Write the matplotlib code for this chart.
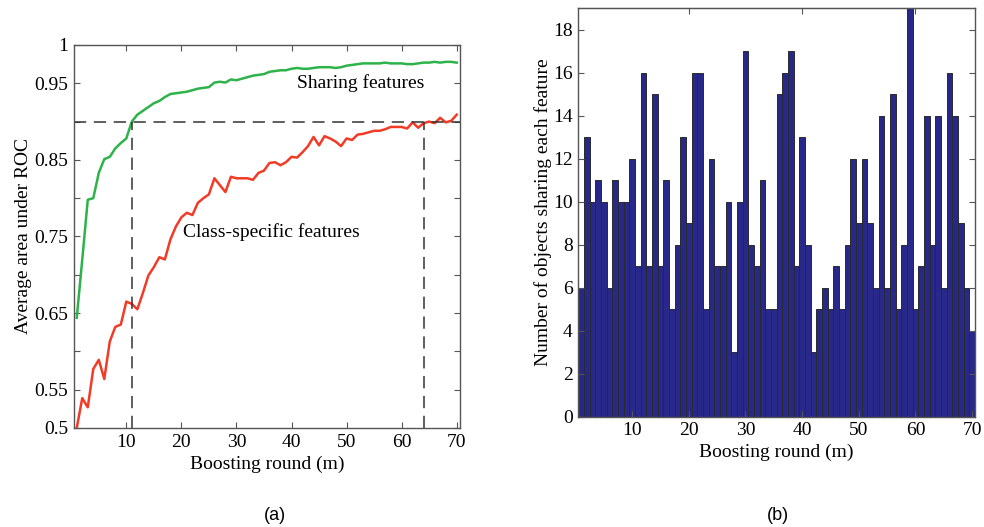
import matplotlib
matplotlib.use("Agg")
import matplotlib.pyplot as plt
import numpy as np

rounds = list(range(1, 71))
sharing_auc = [0.644, 0.72, 0.798, 0.80, 0.833, 0.851, 0.854, 0.865, 0.872, 0.878,
               0.900, 0.909, 0.914, 0.919, 0.924, 0.927, 0.932, 0.936, 0.937, 0.938,
               0.939, 0.941, 0.943, 0.944, 0.945, 0.951, 0.952, 0.951, 0.955, 0.954,
               0.956, 0.958, 0.960, 0.961, 0.962, 0.965, 0.966, 0.967, 0.967, 0.969,
               0.970, 0.969, 0.969, 0.970, 0.971, 0.971, 0.971, 0.970, 0.971, 0.973,
               0.974, 0.975, 0.976, 0.976, 0.976, 0.976, 0.977, 0.976, 0.976, 0.976,
               0.975, 0.975, 0.976, 0.977, 0.977, 0.978, 0.977, 0.978, 0.978, 0.977]
specific_auc = [0.500, 0.539, 0.527, 0.577, 0.589, 0.564, 0.613, 0.632, 0.635, 0.665,
                0.662, 0.655, 0.676, 0.699, 0.710, 0.723, 0.720, 0.746, 0.763, 0.775,
                0.781, 0.778, 0.794, 0.800, 0.805, 0.826, 0.817, 0.808, 0.828, 0.826,
                0.826, 0.826, 0.824, 0.833, 0.836, 0.846, 0.847, 0.843, 0.847, 0.854,
                0.853, 0.860, 0.868, 0.880, 0.869, 0.881, 0.878, 0.874, 0.868, 0.878,
                0.876, 0.883, 0.884, 0.886, 0.888, 0.888, 0.890, 0.893, 0.893, 0.893,
                0.891, 0.899, 0.892, 0.898, 0.900, 0.898, 0.905, 0.899, 0.901, 0.909]
objects_sharing = [6, 13, 10, 11, 10, 6, 11, 10, 10, 12,
                   7, 16, 7, 15, 7, 11, 5, 8, 13, 9,
                   16, 16, 5, 12, 7, 7, 10, 3, 10, 17,
                   8, 7, 11, 5, 5, 15, 16, 17, 7, 13,
                   8, 3, 5, 6, 5, 7, 5, 8, 12, 9,
                   12, 9, 6, 14, 6, 15, 5, 8, 19, 5,
                   7, 14, 8, 14, 6, 16, 14, 9, 6, 4]
target_auc = 0.9
cross_rounds = [11, 64]
left_yticks = [0.5, 0.55, 0.6, 0.65, 0.7, 0.75, 0.8, 0.85, 0.9, 0.95, 1.0]
left_yticklabels = ["0.5", "0.55", "", "0.65", "", "0.75", "", "0.85", "", "0.95", "1"]
xticks = [10, 20, 30, 40, 50, 60, 70]
right_top_ticks = [20, 40, 60]
right_yticks = list(range(0, 19, 2))

plt.rcParams["font.family"] = ["Liberation Serif", "DejaVu Serif"]
fs = 14
spine_col = "#555555"

fig = plt.figure(figsize=(9.84, 5.27), dpi=100)

# ---------- (a) ----------
ax1 = fig.add_axes([74/984, 1-428/527, (460-74)/984, (428-45)/527])
ax1.plot(rounds, sharing_auc, color="#2db34a", lw=1.8)
ax1.plot(rounds, specific_auc, color="#f23b26", lw=1.8)
dash = (0, (8, 5))
ax1.axhline(target_auc, color="#333333", lw=1.1, linestyle=dash)
for r in cross_rounds:
    ax1.plot([r, r], [0.5, target_auc], color="#333333", lw=1.1, linestyle=dash)
ax1.set_xlim(0.5, 70.6)
ax1.set_ylim(0.5, 1.0)
ax1.set_yticks(left_yticks)
ax1.set_yticklabels(left_yticklabels)
ax1.set_xticks(xticks)
ax1.text(52.6, 0.950, "Sharing features", ha="center", va="center", fontsize=fs)
ax1.text(36.3, 0.756, "Class-specific features", ha="center", va="center", fontsize=fs)
ax1.set_xlabel("Boosting round (m)", fontsize=fs, labelpad=4)
ax1.set_ylabel("Average area under ROC", fontsize=fs, labelpad=2)

# ---------- (b) ----------
ax2 = fig.add_axes([578.3/984, 1-416.7/527, (975-578.3)/984, (416.7-8.3)/527])
ax2.bar(rounds, objects_sharing, width=1.0, color="#27288a", edgecolor="#2a2a2a", linewidth=0.7)
ax2.set_xlim(0.5, 70.5)
ax2.set_ylim(0, 19)
ax2.set_yticks(right_yticks)
ax2.set_xticks(xticks)
ax2.set_xlabel("Boosting round (m)", fontsize=fs, labelpad=3)
ax2.set_ylabel("Number of objects sharing each feature", fontsize=fs, labelpad=1)

for ax in (ax1, ax2):
    for s in ax.spines.values():
        s.set_color(spine_col)
        s.set_linewidth(1.0)
    ax.tick_params(direction="in", length=4, width=0.8, color=spine_col,
                   labelsize=fs, right=True, pad=4)
ax1.tick_params(top=True)
sec = ax2.secondary_xaxis("top")
sec.set_xticks(right_top_ticks)
sec.tick_params(direction="in", length=4, width=0.8, color=spine_col, labeltop=False)
sec.spines["top"].set_color(spine_col)

fig.text(275/984, 1-515/527, "(a)", ha="center", va="center", fontsize=13, family="Liberation Sans")
fig.text(778/984, 1-515/527, "(b)", ha="center", va="center", fontsize=13, family="Liberation Sans")

fig.savefig("out.png", dpi=100)
